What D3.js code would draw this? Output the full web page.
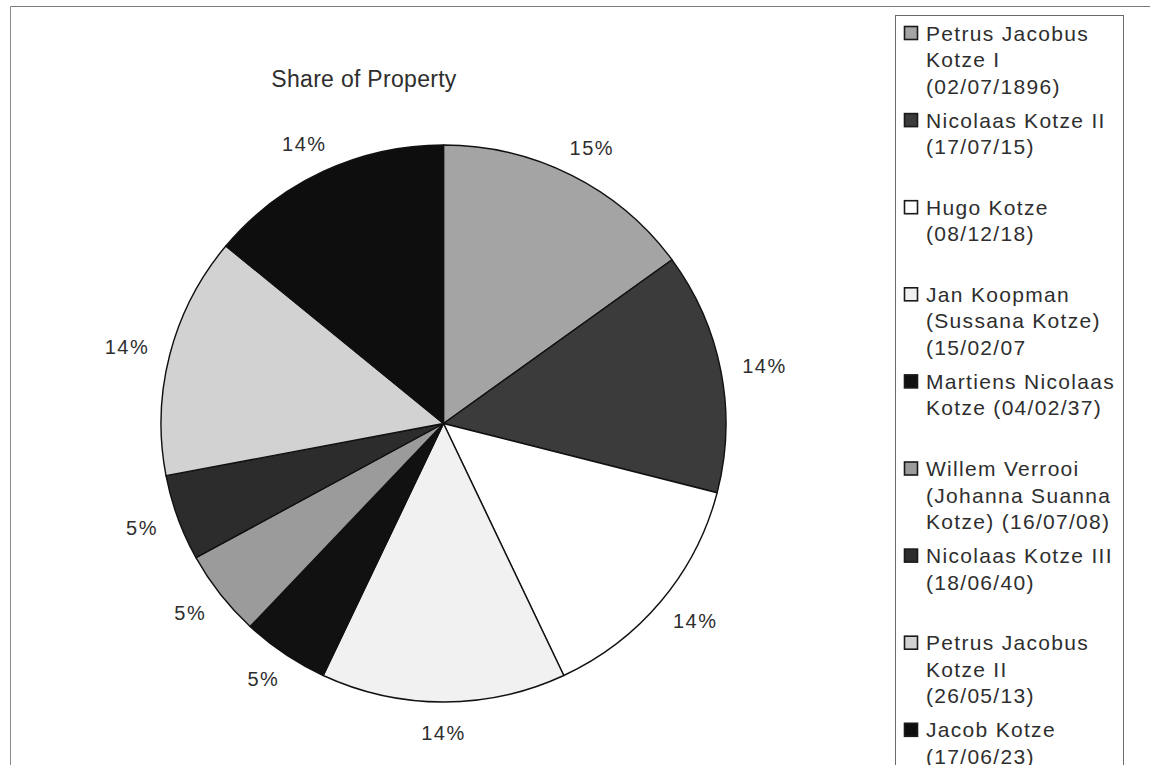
<!DOCTYPE html>
<html>
<head>
<meta charset="utf-8">
<script src="https://cdn.jsdelivr.net/npm/d3@7"></script>
<style>
  html, body { margin: 0; padding: 0; background: #ffffff; }
  svg { display: block; }
  text { font-family: "Liberation Sans", Arial, sans-serif; fill: #2e2e2e; }
</style>
</head>
<body>
<svg id="chart" width="1150" height="765"></svg>
<script>
// Heirs, in slice order (clockwise from twelve o'clock); each legend entry is wrapped over lines.
const heirs = [
  ["Petrus Jacobus", "Kotze I", "(02/07/1896)"],
  ["Nicolaas Kotze II", "(17/07/15)"],
  ["Hugo Kotze", "(08/12/18)"],
  ["Jan Koopman", "(Sussana Kotze)", "(15/02/07"],
  ["Martiens Nicolaas", "Kotze (04/02/37)"],
  ["Willem Verrooi", "(Johanna Suanna", "Kotze) (16/07/08)"],
  ["Nicolaas Kotze III", "(18/06/40)"],
  ["Petrus Jacobus", "Kotze II", "(26/05/13)"],
  ["Jacob Kotze", "(17/06/23)"]
];

// Share of the property held by each heir, in percent.
const shares = [15, 14, 14, 14, 5, 5, 5, 14, 14];

// Grey-scale fills for the slices.
const shades = ["#a4a4a4", "#3b3b3b", "#ffffff", "#f1f1f1", "#111111",
                "#9b9b9b", "#2c2c2c", "#d2d2d2", "#0e0e0e"];

const title = "Share of Property";

const svg = d3.select("#chart");

// Outer frame (top and left edges)
svg.append("line").attr("x1", 10.5).attr("y1", 6.5).attr("x2", 1150).attr("y2", 6.5)
  .attr("stroke", "#7a7a7a").attr("stroke-width", 1);
svg.append("line").attr("x1", 10.5).attr("y1", 6.5).attr("x2", 10.5).attr("y2", 765)
  .attr("stroke", "#8a8a8a").attr("stroke-width", 1);

// Title
svg.append("text")
  .attr("x", 364).attr("y", 87)
  .attr("text-anchor", "middle")
  .style("font-size", "23px")
  .style("letter-spacing", "0.3px")
  .text(title);

// Pie geometry: slightly wider than tall
const cx = 443.5, cy = 423.5, ry = 278.5, rx = 282.5;
const sx = rx / ry;

const pie = d3.pie().sort(null).value(d => d);
const arcs = pie(shares);
const arc = d3.arc().innerRadius(0).outerRadius(ry);

const pieG = svg.append("g")
  .attr("transform", `translate(${cx},${cy}) scale(${sx},1)`);

pieG.selectAll("path.slice")
  .data(arcs)
  .join("path")
  .attr("class", "slice")
  .attr("d", arc)
  .attr("fill", (d, i) => shades[i])
  .attr("stroke", "#111")
  .attr("stroke-width", 1.4)
  .attr("stroke-linejoin", "round");

// Percentage labels placed just outside the rim
const fmt = d3.format(".0%");
const total = d3.sum(shares);
const labelFont = 20;
const gap = 22;
const labels = svg.append("g");
arcs.forEach((d, i) => {
  const a = (d.startAngle + d.endAngle) / 2;
  const s = Math.sin(a), c = -Math.cos(a);
  const t = labels.append("text")
    .style("font-size", labelFont + "px")
    .style("letter-spacing", "1.5px")
    .attr("text-anchor", "middle")
    .attr("dy", "0.36em")
    .text(fmt(d.data / total));
  const w = t.node().getComputedTextLength();
  const h = labelFont * 0.85;
  const x = cx + (rx + gap) * s + (w / 2) * s;
  const y = cy + (ry + gap) * c + (h / 2) * c;
  t.attr("x", x).attr("y", y);
});

// Legend
const legX = 895.5, legY = 15.5, legW = 228;
svg.append("rect")
  .attr("x", legX).attr("y", legY)
  .attr("width", legW).attr("height", 800)
  .attr("fill", "#ffffff")
  .attr("stroke", "#6a6a6a")
  .attr("stroke-width", 1);

const entryY = d3.scaleLinear().domain([0, 1]).range([33, 33 + 87.1]);
const lineH = 26.5;
const legFont = 21;

const entries = svg.append("g").selectAll("g")
  .data(heirs)
  .join("g")
  .attr("transform", (d, i) => `translate(0,${entryY(i)})`);

entries.append("rect")
  .attr("x", 904.5).attr("y", -6.5)
  .attr("width", 13).attr("height", 13)
  .attr("fill", (d, i) => shades[i])
  .attr("stroke", "#1a1a1a")
  .attr("stroke-width", 1.6);

entries.each(function(lines) {
  const g = d3.select(this);
  lines.forEach((ln, j) => {
    g.append("text")
      .attr("x", 926)
      .attr("y", j * lineH)
      .attr("dy", "0.36em")
      .style("font-size", legFont + "px")
      .style("letter-spacing", "1.3px")
      .text(ln);
  });
});
</script>
</body>
</html>
